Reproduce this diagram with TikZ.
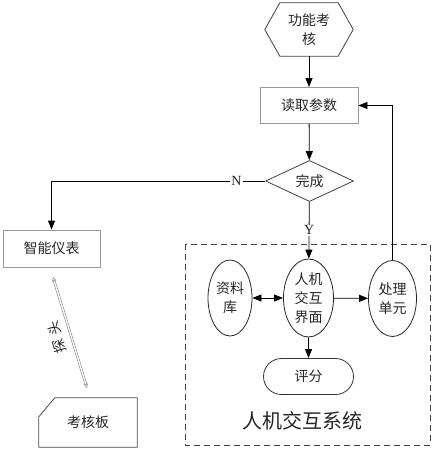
\documentclass[tikz,border=0pt]{standalone}
\usepackage{fontspec}
\setmainfont{Liberation Serif}
\newfontfamily\cjk{Noto Sans CJK SC}
\usetikzlibrary{arrows.meta,shapes.geometric,shapes.misc}
\begin{document}
\begin{tikzpicture}[x=1pt,y=-1pt,
  every node/.style={font=\cjk\fontsize{14}{19}\selectfont, inner sep=0pt, align=center, text=black!85},
  arr/.style={-{Triangle[length=9pt,width=7pt]}, line width=0.8pt},
  darr/.style={{Triangle[length=9pt,width=7pt]}-{Triangle[length=9pt,width=7pt]}, line width=0.8pt},
  gbox/.style={draw=black!40, line width=0.8pt, minimum width=98pt, minimum height=36pt},
  ell/.style={ellipse, draw=black!85, line width=0.8pt},
  lab/.style={font=\fontsize{14}{14}\selectfont, fill=white, inner sep=1pt}]
\useasboundingbox (0,0) rectangle (433,450);
% hexagon
\node (hex) [minimum width=88pt, minimum height=53pt] at (309,29.5) {功能考\\核};
\draw[draw=black!75, line width=0.8pt] (hex.west) -- ([xshift=15pt]hex.north west) -- ([xshift=-15pt]hex.north east) -- (hex.east) -- ([xshift=-15pt]hex.south east) -- ([xshift=15pt]hex.south west) -- cycle;
\node (read) [gbox] at (309,105.5) {读取参数};
\node (done) [diamond, draw=black!75, line width=0.8pt, minimum width=88pt, minimum height=36pt] at (309.5,181) {完成};
\node (meter) [gbox, minimum width=97pt, minimum height=37pt] at (51.5,248.5) {智能仪表};
\node (board) [minimum width=98pt, minimum height=49pt] at (88,422.5) {考核板};
\draw[draw=black!70, line width=0.8pt] (board.south west) -- ([yshift=-19pt]board.north west) -- ([xshift=16pt]board.north west) -- (board.north east) -- (board.south east) -- cycle;
% dashed frame
\draw[dashed, dash pattern=on 6pt off 4pt, line width=0.8pt, draw=black!75] (185,244) rectangle (430,445);
\node (db) [ell, minimum width=44pt, minimum height=76pt] at (230,298) {资料\\库};
\node (hmi) [ell, minimum width=50pt, minimum height=78pt] at (308.5,298) {人机\\交互\\界面};
\node (proc) [ell, minimum width=48pt, minimum height=76pt] at (392.5,298.5) {处理\\单元};
\node (score) [rounded rectangle, draw=black!80, line width=0.8pt, minimum width=90pt, minimum height=36pt] at (308.5,376.5) {评分};
\node (sys) [font=\cjk\fontsize{20}{20}\selectfont] at (302.5,421) {人机交互系统};
% connectors
\draw[arr] (hex) -- (read);
\draw[arr] (read) -- (done);
\draw[arr] (done.west) -| (meter.north) node[lab, pos=0.067] {N};
\draw[arr] (done) -- (hmi) node[lab, pos=0.5] {Y};
\draw[arr] (proc.north) |- (read.east);
\draw[darr] (db) -- (hmi);
\draw[arr] (hmi) -- (proc);
\draw[arr] (hmi) -- (score);
% probe
\coordinate (p1) at (53,277);
\coordinate (p2) at (87,388);
\draw[draw=black!55, double=white, double distance=1.4pt, line width=0.5pt, {Triangle[open,length=4pt,width=4pt]}-{Triangle[open,length=4pt,width=4pt]}] (p1) -- (p2);
\node (probe) [rotate=107] at (57,337) {探\hspace{5pt}头};
\end{tikzpicture}
\end{document}
